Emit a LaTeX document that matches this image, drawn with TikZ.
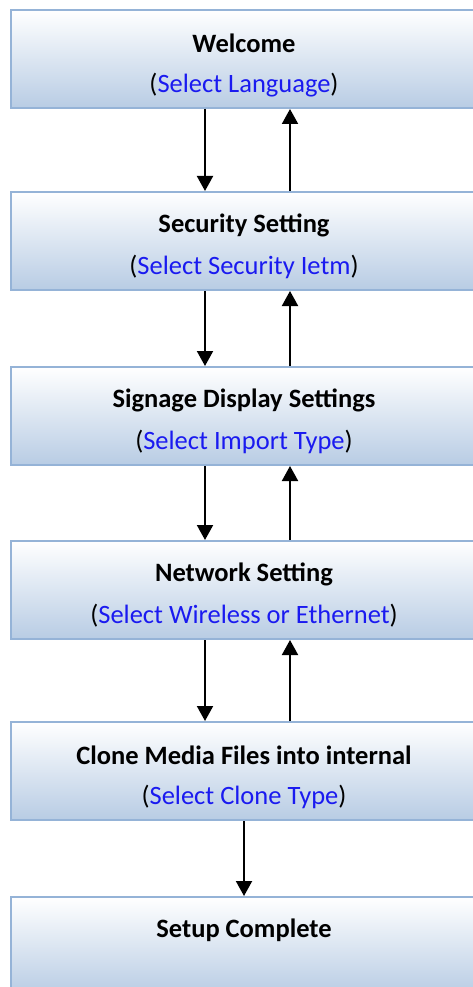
\documentclass[tikz,border=0pt]{standalone}
\usepackage{fontspec}
\setmainfont{Carlito}
\usetikzlibrary{arrows.meta}
\definecolor{boxline}{HTML}{95B3D7}
\definecolor{boxlow}{HTML}{B8CCE4}
\definecolor{selblue}{HTML}{1A1AF0}
\tikzset{
  stage/.style={draw=boxline, line width=2pt, top color=white, bottom color=boxlow, minimum width=466pt, minimum height=98pt, inner sep=0pt},
  title/.style={font=\fontsize{26.5}{30}\selectfont\bfseries},
  choice/.style={font=\fontsize{26.5}{30}\selectfont},
  flow/.style={line width=2pt, -{Triangle[width=16pt,length=15pt]}}
}
\newcommand{\pick}[1]{(\textcolor{selblue}{#1})}

\begin{document}
\begin{tikzpicture}[x=1pt,y=-1pt]
\useasboundingbox (0,0) rectangle (472,987);

\node[stage] (welcome) at (244,59) {};
\node[title] (welcomet) at (244,43) {Welcome};
\node[choice] (welcomes) at (244,85) {\pick{Select Language}};

\node[stage] (security) at (244,241) {};
\node[title] (securityt) at (244,225) {Security Setting};
\node[choice] (securitys) at (244,267) {\pick{Select Security Ietm}};

\node[stage] (display) at (244,416) {};
\node[title] (displayt) at (244,400) {Signage Display Settings};
\node[choice] (displays) at (244,442) {\pick{Select Import Type}};

\node[stage] (network) at (244,590) {};
\node[title] (networkt) at (244,574) {Network Setting};
\node[choice] (networks) at (244,616) {\pick{Select Wireless or Ethernet}};

\node[stage] (clone) at (244,771) {};
\node[title] (clonet) at (244,755) {Clone Media Files into internal};
\node[choice] (clones) at (244,797) {\pick{Select Clone Type}};

\node[stage] (done) at (244,946) {};
\node[title] (donet) at (244,930) {Setup Complete};

% forward / back
\draw[flow] ([xshift=-39pt]welcome.south) -- ([xshift=-39pt]security.north);
\draw[flow] ([xshift=46pt]security.north) -- ([xshift=46pt]welcome.south);
\draw[flow] ([xshift=-39pt]security.south) -- ([xshift=-39pt]display.north);
\draw[flow] ([xshift=46pt]display.north) -- ([xshift=46pt]security.south);
\draw[flow] ([xshift=-39pt]display.south) -- ([xshift=-39pt]network.north);
\draw[flow] ([xshift=46pt]network.north) -- ([xshift=46pt]display.south);
\draw[flow] ([xshift=-39pt]network.south) -- ([xshift=-39pt]clone.north);
\draw[flow] ([xshift=46pt]clone.north) -- ([xshift=46pt]network.south);
\draw[flow] (clone.south) -- (done.north);

\end{tikzpicture}
\end{document}
